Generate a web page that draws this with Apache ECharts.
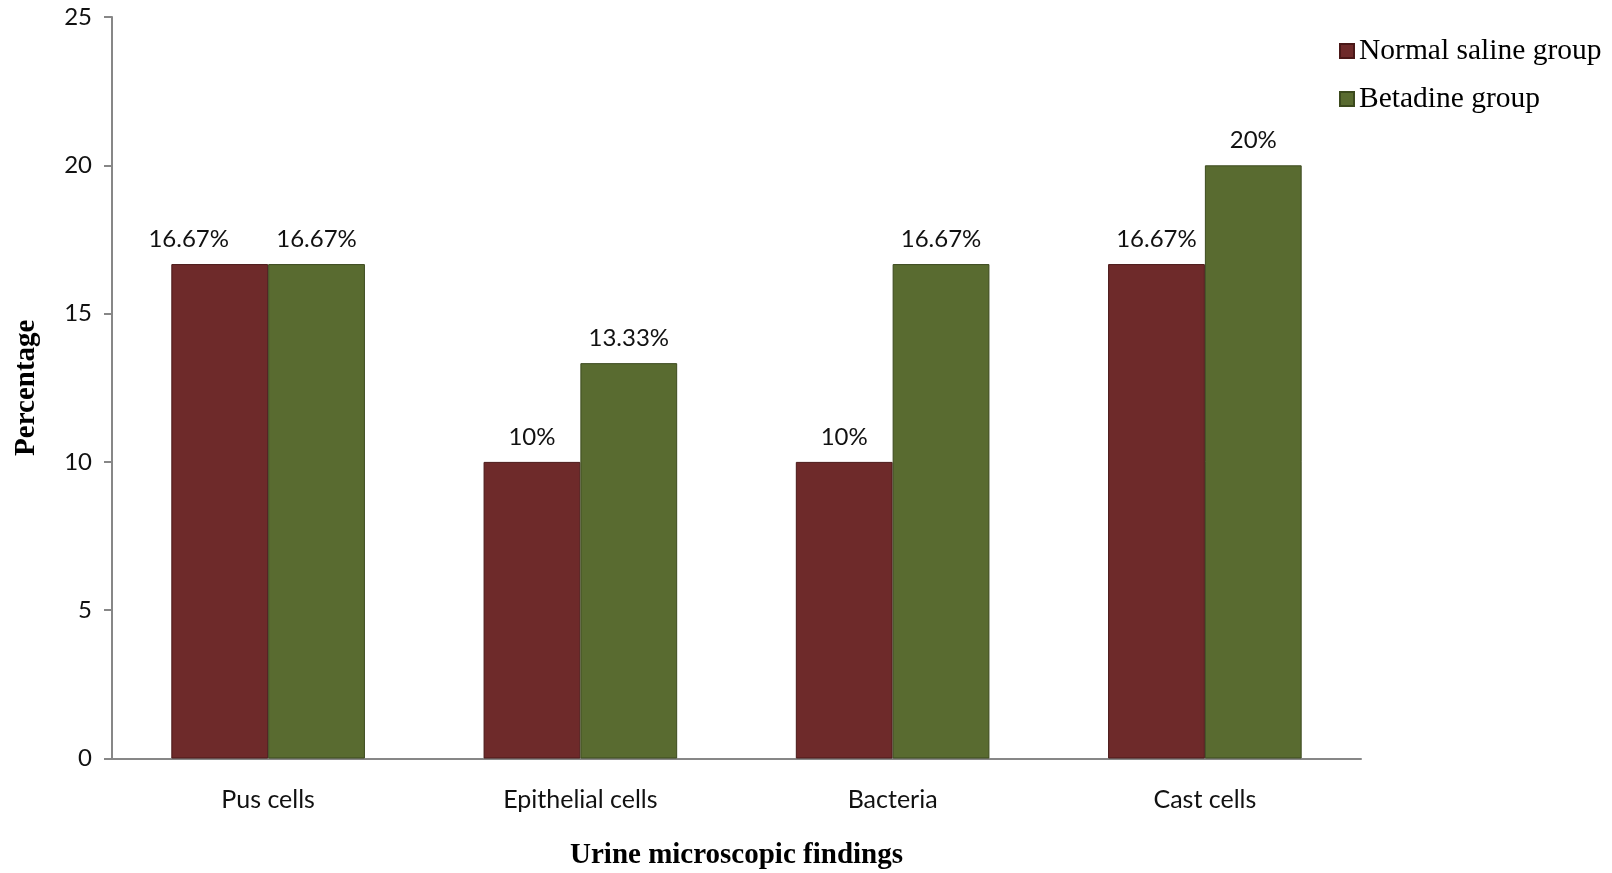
<!DOCTYPE html>
<html>
<head>
<meta charset="utf-8">
<script src="https://cdn.jsdelivr.net/npm/echarts@6/dist/echarts.min.js"></script>
<style>
  html, body { margin: 0; padding: 0; background: #fff; }
  #chart { width: 1612px; height: 873px; }
</style>
</head>
<body>
<div id="chart"></div>
<script>
// Urine microscopic findings by group (percent of patients)
const categories = ['Pus cells', 'Epithelial cells', 'Bacteria', 'Cast cells'];
const normalSaline = [16.67, 10, 10, 16.67];
const betadine = [16.67, 13.33, 16.67, 20];
const yTicks = [0, 5, 10, 15, 20, 25];

const SANS = 'Lato, "Open Sans", sans-serif';
const SERIF = '"Liberation Serif", "DejaVu Serif", serif';
const AXIS_GREY = '#878787';

function pctLabel(p) {
  return p.value + '%';
}

// labelShift: optional per-category horizontal nudge so adjacent labels don't collide
function barSeries(name, values, color, edge, labelShift) {
  const data = values.map(function (v, i) {
    const dx = labelShift && labelShift[i];
    return dx ? { value: v, label: { offset: [dx, 0] } } : v;
  });
  return {
    name: name,
    type: 'bar',
    data: data,
    barGap: '0%',
    barCategoryGap: '38%',
    itemStyle: {
      color: color,
      borderColor: edge,
      borderWidth: 1
    },
    label: {
      show: true,
      position: 'top',
      distance: 13,
      formatter: pctLabel,
      color: '#111',
      fontFamily: SANS,
      fontSize: 24
    }
  };
}

const chart = echarts.init(document.getElementById('chart'), null, { renderer: 'canvas' });

chart.setOption({
  animation: false,
  backgroundColor: '#ffffff',
  grid: {
    left: 112, right: 251, top: 17, bottom: 114.5,
    containLabel: false,
    outerBoundsMode: 'none'
  },
  legend: {
    orient: 'vertical',
    left: 1334,
    top: 31,
    itemWidth: 14,
    itemHeight: 14,
    itemGap: 18,
    icon: 'rect',
    textStyle: { fontFamily: SERIF, fontSize: 29.5, color: '#000', lineHeight: 30 },
    data: ['Normal saline group', 'Betadine group']
  },
  xAxis: {
    type: 'category',
    data: categories,
    name: 'Urine microscopic findings',
    nameLocation: 'middle',
    nameGap: 83,
    nameTextStyle: { fontFamily: SERIF, fontSize: 29, fontWeight: 'bold', color: '#000' },
    axisLine: { lineStyle: { color: AXIS_GREY, width: 2 } },
    axisTick: { show: false },
    axisLabel: { margin: 29, fontFamily: SANS, fontSize: 25, color: '#111' }
  },
  yAxis: {
    type: 'value',
    min: yTicks[0],
    max: yTicks[yTicks.length - 1],
    interval: yTicks[1] - yTicks[0],
    name: 'Percentage',
    nameLocation: 'middle',
    nameGap: 71,
    nameRotate: 90,
    nameTextStyle: { fontFamily: SERIF, fontSize: 29, fontWeight: 'bold', color: '#000' },
    axisLine: { show: true, lineStyle: { color: AXIS_GREY, width: 2 } },
    axisTick: { show: true, inside: false, length: 8, lineStyle: { color: AXIS_GREY, width: 2 } },
    axisLabel: { margin: 20, fontFamily: SANS, fontSize: 24, color: '#111' },
    splitLine: { show: false }
  },
  series: [
    barSeries('Normal saline group', normalSaline, '#6e2a2a', '#4a1818', [-31, 0, 0, 0]),
    barSeries('Betadine group', betadine, '#596b30', '#3c4a1e')
  ]
});
</script>
</body>
</html>
